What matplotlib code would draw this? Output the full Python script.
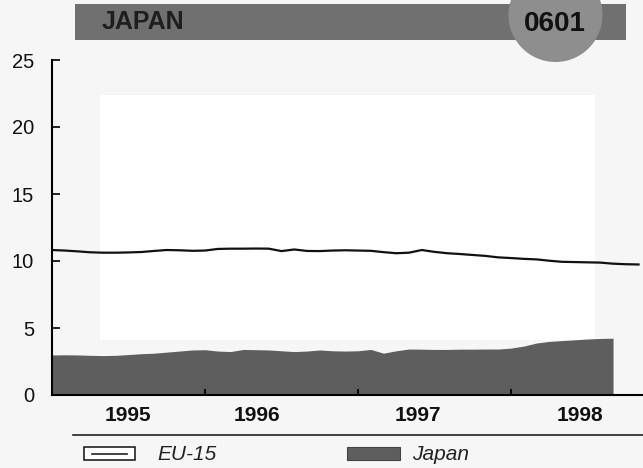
import numpy as np
import matplotlib
matplotlib.use("Agg")
import matplotlib.pyplot as plt
from matplotlib.patches import Rectangle, Circle

# monthly data, month 0 = Jan 1995
eu15 = [10.82, 10.78, 10.72, 10.65, 10.62, 10.62, 10.64, 10.67, 10.75, 10.82,
        10.80, 10.76, 10.78, 10.90, 10.92, 10.92, 10.93, 10.92, 10.74, 10.86,
        10.75, 10.74, 10.78, 10.80, 10.78, 10.76, 10.66, 10.58, 10.62, 10.82,
        10.68, 10.58, 10.52, 10.45, 10.38, 10.27, 10.22, 10.16, 10.12, 10.02,
        9.94, 9.92, 9.90, 9.88, 9.80, 9.76, 9.74]
japan = [2.99, 3.00, 2.99, 2.96, 2.94, 2.96, 3.02, 3.08, 3.12, 3.20,
         3.28, 3.36, 3.38, 3.28, 3.24, 3.40, 3.38, 3.36, 3.30, 3.24,
         3.28, 3.36, 3.30, 3.28, 3.30, 3.40, 3.12, 3.30, 3.43, 3.42,
         3.40, 3.40, 3.42, 3.42, 3.43, 3.43, 3.50, 3.65, 3.88, 4.00,
         4.06, 4.12, 4.18, 4.22, 4.24]
years = ["1995", "1996", "1997", "1998"]
yearLabelPos = [5.96, 16.1, 28.7, 41.4]
yearBreaks = [12, 24, 36]
yTicks = [0, 5, 10, 15, 20, 25]

W, H = 643, 468
fig = plt.figure(figsize=(W/100, H/100), dpi=100)
fig.patch.set_facecolor("#f6f6f6")

# overlay in pixel coordinates for header, legend, paper patches
bg = fig.add_axes([0, 0, 1, 1], zorder=0)
bg.set_xlim(0, W)
bg.set_ylim(H, 0)
bg.axis("off")
bg.add_patch(Rectangle((100, 95), 495, 245, color="white", lw=0))

# header bar with the round badge
bg.add_patch(Rectangle((75, 4), 551, 36, color="#707070", lw=0))
bg.add_patch(Circle((555.5, 15), 47, color="#8e8e8e", lw=0))
bg.text(102, 22, "JAPAN", fontsize=18, fontweight="bold", color="#1e1e1e",
        family="Liberation Sans", va="center", ha="left")
bg.text(555, 24, "0601", fontsize=20, fontweight="bold", color="#111111",
        family="Liberation Sans", va="center", ha="center")

# legend
bg.plot([73, 643], [435, 435], color="#222222", lw=1.2)
bg.add_patch(Rectangle((84, 447), 51, 13, fc="white", ec="#222222", lw=1.2))
bg.plot([92, 127], [453.5, 453.5], color="#222222", lw=1.2)
bg.text(157, 454, "EU-15", fontsize=15, style="italic", color="#222222",
        family="Liberation Sans", va="center")
bg.add_patch(Rectangle((347, 447), 53, 13, fc="#5e5e5e", ec="#444444", lw=0.8))
bg.text(412, 454, "Japan", fontsize=15, style="italic", color="#222222",
        family="Liberation Sans", va="center")

# main chart
ax = fig.add_axes([52/W, 1 - 395/H, 1 - 52/W, (395 - 60)/H], zorder=1)
ax.patch.set_alpha(0)
xe = np.arange(len(eu15))
xj = np.arange(len(japan))
ax.fill_between(xj, 0, japan, color="#5e5e5e", lw=0)
ax.plot(xe, eu15, color="#111111", lw=1.6)

ax.set_xlim(0, 46.35)
ax.set_ylim(0, 25)
for s in ["top", "right"]:
    ax.spines[s].set_visible(False)
ax.spines["left"].set_linewidth(1.5)
ax.spines["bottom"].set_linewidth(1.5)

ax.set_yticks(yTicks)
ax.set_yticklabels([str(v) for v in yTicks], fontsize=14.5, family="Liberation Sans")
ax.tick_params(axis="y", direction="in", length=6, width=1.3, pad=13, colors="#111111")

ax.set_xticks(yearBreaks)
ax.set_xticklabels([])
ax.tick_params(axis="x", which="major", direction="in", length=4, width=1.3)
ax.set_xticks(yearLabelPos, minor=True)
ax.set_xticklabels(years, minor=True, fontsize=15, fontweight="bold", family="Liberation Sans")
ax.tick_params(axis="x", which="minor", length=0, pad=8, colors="#111111")

fig.savefig("out.png", dpi=100, facecolor=fig.get_facecolor())
